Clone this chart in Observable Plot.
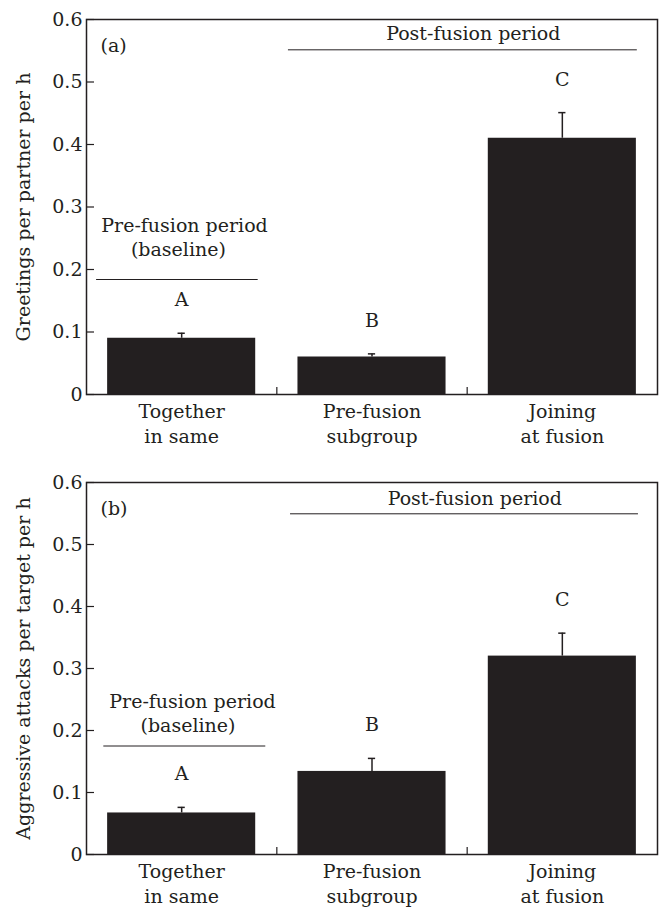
<!DOCTYPE html>
<html>
<head>
<meta charset="utf-8">
<script src="https://cdn.jsdelivr.net/npm/d3@7"></script>
<script src="https://cdn.jsdelivr.net/npm/@observablehq/plot@0.6"></script>
<style>
  html, body { margin: 0; padding: 0; background: #fff; }
  svg { display: block; }
</style>
</head>
<body>
<div id="chart"></div>
<script>
// ---- data ----
const categories = ["Together\nin same", "Pre-fusion\nsubgroup", "Joining\nat fusion"];
const groupLetters = ["A", "B", "C"];
const greetingsMean = [0.09, 0.06, 0.41];
const greetingsSE = [0.008, 0.005, 0.041];
const attacksMean = [0.067, 0.134, 0.32];
const attacksSE = [0.009, 0.021, 0.037];
const yTicks = [0, 0.1, 0.2, 0.3, 0.4, 0.5, 0.6];
const panelTags = ["(a)", "(b)"];
const yLabels = ["Greetings per partner per h", "Aggressive attacks per target per h"];

// annotation brackets (data units: x = category index, y = rate)
const bracketLinesA = [
  {x1: 0.561, x2: 2.394, y: 0.5515},
  {x1: -0.447, x2: 0.402, y: 0.184}
];
const bracketTextA = [
  {text: "Post-fusion period", x: 1.532, y: 0.5776},
  {text: "Pre-fusion period", x: 0.015, y: 0.269},
  {text: "(baseline)", x: -0.017, y: 0.231}
];
const bracketLinesB = [
  {x1: 0.572, x2: 2.400, y: 0.5495},
  {x1: -0.409, x2: 0.442, y: 0.175}
];
const bracketTextB = [
  {text: "Post-fusion period", x: 1.540, y: 0.574},
  {text: "Pre-fusion period", x: 0.057, y: 0.2456},
  {text: "(baseline)", x: 0.033, y: 0.208}
];

const INK = "#231f20";
const FONT = "DejaVu Serif";
const FS = 19;
const W = 662, ML = 86, MR = 5;
const barHalf = 0.389;

function panel({means, ses, tag, ylabel, height, marginTop, marginBottom, lines, texts}) {
  const rows = categories.map((c, i) => ({i, cat: c, mean: means[i], se: ses[i], top: means[i] + ses[i], letter: groupLetters[i]}));
  const pxPerX = (W - ML - MR) / 3;
  const pxPerY = (height - marginTop - marginBottom) / 0.6;
  const yTickLen = 8 / pxPerX;
  const xTickLen = 7 / pxPerY;
  return Plot.plot({
    width: W, height, marginLeft: ML, marginRight: MR, marginTop, marginBottom,
    style: {fontFamily: FONT, fontSize: FS + "px", color: INK, background: "#fff", overflow: "visible"},
    x: {domain: [-0.5, 2.5], axis: null},
    y: {domain: [0, 0.6], axis: null},
    marks: [
      Plot.rect(rows, {x1: d => d.i - barHalf, x2: d => d.i + barHalf, y1: 0, y2: "mean", fill: INK}),
      Plot.ruleX(rows, {x: "i", y1: "mean", y2: "top", stroke: INK, strokeWidth: 1.5}),
      Plot.ruleY(rows, {y: "top", x1: d => d.i - 0.019, x2: d => d.i + 0.019, stroke: INK, strokeWidth: 1.5}),
      Plot.text(rows, {x: "i", y: "top", text: "letter", dy: -33, lineAnchor: "middle", fontSize: FS, fill: INK}),
      // y ticks (inward) and labels
      Plot.ruleY(yTicks, {y: d => d, x1: -0.5, x2: -0.5 + yTickLen, stroke: INK, strokeWidth: 1.2}),
      Plot.axisY(yTicks, {tickSize: 0, tickPadding: 4, tickFormat: d => d === 0 ? "0" : d.toFixed(1), label: null, fontSize: FS, fill: INK}),
      // x ticks at band boundaries (inward)
      Plot.ruleX([0.5, 1.5], {x: d => d, y1: 0, y2: xTickLen, stroke: INK, strokeWidth: 1.2}),
      Plot.text(rows, {x: "i", text: "cat", frameAnchor: "bottom", lineAnchor: "top", dy: 6, lineHeight: 1.32, fontSize: FS, fill: INK}),
      // y label
      Plot.text([ylabel], {frameAnchor: "left", textAnchor: "middle", rotate: -90, dx: -63, lineAnchor: "middle", fontSize: FS, fill: INK}),
      // brackets
      Plot.ruleY(lines, {y: "y", x1: "x1", x2: "x2", stroke: INK, strokeWidth: 1}),
      Plot.text(texts, {x: "x", y: "y", text: "text", lineAnchor: "middle", fontSize: FS, fill: INK}),
      // panel tag
      Plot.text([tag], {frameAnchor: "top-left", dx: 14, dy: 26, lineAnchor: "middle", textAnchor: "start", fontSize: FS, fill: INK}),
      Plot.frame({stroke: INK, strokeWidth: 1.5})
    ]
  });
}

const el = document.getElementById("chart");
el.appendChild(panel({means: greetingsMean, ses: greetingsSE, tag: panelTags[0], ylabel: yLabels[0],
  height: 455, marginTop: 19, marginBottom: 61, lines: bracketLinesA, texts: bracketTextA}));
el.appendChild(panel({means: attacksMean, ses: attacksSE, tag: panelTags[1], ylabel: yLabels[1],
  height: 452, marginTop: 27, marginBottom: 53, lines: bracketLinesB, texts: bracketTextB}));
</script>
</body>
</html>
